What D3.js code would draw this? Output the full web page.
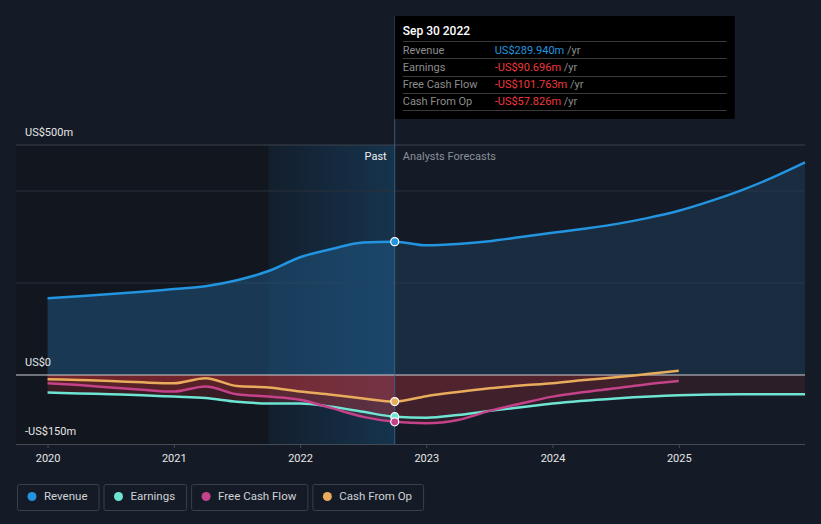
<!DOCTYPE html>
<html><head><meta charset="utf-8">
<script src="https://cdn.jsdelivr.net/npm/d3@7/dist/d3.min.js"></script>
<style>html,body{margin:0;padding:0;background:#151b26;}svg{display:block;font-family:Roboto,"Open Sans",sans-serif;}</style>
</head><body><svg id="c" width="821" height="524"></svg>
<script>
// ---- data ----
const pastT = [2020, 2020.25, 2020.5, 2020.75, 2021, 2021.25, 2021.5, 2021.75, 2022, 2022.25, 2022.5, 2022.75];
const revenuePast  = [167, 171, 176, 181, 187, 193, 206, 226, 256, 274, 288, 289.94];
const earningsPast = [-38, -40, -42, -44, -47, -50, -58, -62, -62, -69, -80, -90.696];
const fcfPast      = [-18, -22, -27, -32, -36, -25, -42, -47, -54, -72, -91, -101.763];
const cfoPast      = [-9, -11, -13, -16, -18, -7, -24, -27, -36, -43, -51, -57.826];

const revenueFT = [2022.75, 2023, 2023.25, 2023.5, 2023.75, 2024, 2024.25, 2024.5, 2024.75, 2025, 2025.25, 2025.5, 2025.75, 2026];
const revenueF  = [289.94, 282, 285, 291, 300, 309, 318, 328, 341, 357, 378, 402, 430, 462];
const earningsFT = [2022.75, 2023, 2023.25, 2023.5, 2023.75, 2024, 2024.5, 2025, 2025.5, 2026];
const earningsF  = [-90.696, -93, -87, -78, -70, -62, -51, -44, -42, -42];
const cashFT = [2022.75, 2023, 2023.25, 2023.5, 2023.75, 2024, 2024.25, 2024.5, 2024.75, 2025];
const fcfF   = [-101.763, -105, -98, -78, -62, -47, -37, -29, -20, -13];
const cfoF   = [-57.826, -46, -37, -29, -23, -18, -11, -5, 2, 9];

const xTicks = [2020, 2021, 2022, 2023, 2024, 2025];
const yLabels = [{v:500, t:"US$500m"}, {v:0, t:"US$0"}, {v:-150, t:"-US$150m"}];
const gridVals = [400, 200];
const tipDate = "Sep 30 2022";
const tipRows = [
  {label:"Revenue", value:"US$289.940m", pos:true},
  {label:"Earnings", value:"-US$90.696m", pos:false},
  {label:"Free Cash Flow", value:"-US$101.763m", pos:false},
  {label:"Cash From Op", value:"-US$57.826m", pos:false}
];
const seriesNames = ["Revenue", "Earnings", "Free Cash Flow", "Cash From Op"];
const colors = {"Revenue":"#2394df", "Earnings":"#6ee4d3", "Free Cash Flow":"#c4428a", "Cash From Op":"#e8ac5c"};
const nowT = 2022.75, hiStart = 2021.75;

// ---- scales ----
const svg = d3.select("#c");
const L = 16, R = 805, T = 145, B = 444;
const x = d3.scaleLinear().domain([2019.75, 2026]).range([L, R]);
const y = d3.scaleLinear().domain([-150, 500]).range([B, T]);
const zip = (ts, vs) => ts.map((t,i)=>[t, vs[i]]);
const curve = d3.curveMonotoneX;

const defs = svg.append("defs");
const hg = defs.append("linearGradient").attr("id","hi").attr("x1",0).attr("x2",1).attr("y1",0).attr("y2",0);
hg.append("stop").attr("offset","0%").attr("stop-color","#1d5c8c").attr("stop-opacity",0.12);
hg.append("stop").attr("offset","100%").attr("stop-color","#1d5c8c").attr("stop-opacity",0.42);

// backgrounds
svg.append("rect").attr("x",L).attr("y",T).attr("width",x(nowT)-L).attr("height",B-T).attr("fill","#11161f");
svg.append("rect").attr("x",x(hiStart)).attr("y",T).attr("width",x(nowT)-x(hiStart)).attr("height",B-T).attr("fill","url(#hi)");

// grid
svg.append("line").attr("x1",L).attr("x2",R).attr("y1",y(500)).attr("y2",y(500)).attr("stroke","#3c424d").attr("stroke-width",1);
gridVals.forEach(v=>svg.append("line").attr("x1",L).attr("x2",R).attr("y1",y(v)).attr("y2",y(v)).attr("stroke","#2a303a").attr("stroke-width",1));

// revenue areas
const area = d3.area().x(d=>x(d[0])).y0(y(0)).y1(d=>y(d[1])).curve(curve);
svg.append("path").attr("d",area(zip(pastT,revenuePast))).attr("fill","#1f5a88").attr("opacity",0.5);
svg.append("path").attr("d",area(zip(revenueFT,revenueF))).attr("fill","#1f4464").attr("opacity",0.42);

// negative areas
[[pastT,earningsPast],[pastT,fcfPast],[pastT,cfoPast]].forEach(([t,v])=>
  svg.append("path").attr("d",area(zip(t,v))).attr("fill","#d8373a").attr("opacity",0.2));
[[earningsFT,earningsF],[cashFT,fcfF],[cashFT,cfoF.map(v=>Math.min(v,0))]].forEach(([t,v])=>
  svg.append("path").attr("d",area(zip(t,v))).attr("fill","#c8343a").attr("opacity",0.13));

// zero line & axis
svg.append("line").attr("x1",L).attr("x2",R).attr("y1",y(0)).attr("y2",y(0)).attr("stroke","#d0d0d4").attr("stroke-width",1);
const xAxis = svg.append("g").attr("transform",`translate(0,${B})`)
  .call(d3.axisBottom(x).tickValues(xTicks).tickFormat(d3.format("d")).tickSize(4).tickPadding(6));
xAxis.select(".domain").attr("stroke","#454b56").attr("d",`M${L},0.5H${R}`);
xAxis.selectAll(".tick line").attr("stroke","#454b56");
xAxis.selectAll("text").attr("fill","#e6e6e6").attr("font-size",11).attr("font-family","Roboto");

// lines
const line = d3.line().x(d=>x(d[0])).y(d=>y(d[1])).curve(curve);
const drawLine = (data,c)=>svg.append("path").attr("d",line(data)).attr("fill","none").attr("stroke",c).attr("stroke-width",2.5);
drawLine(zip(pastT,earningsPast).concat(zip(earningsFT,earningsF).slice(1)), colors["Earnings"]);
drawLine(zip(pastT,cfoPast).concat(zip(cashFT,cfoF).slice(1)), colors["Cash From Op"]);
drawLine(zip(pastT,fcfPast).concat(zip(cashFT,fcfF).slice(1)), colors["Free Cash Flow"]);
drawLine(zip(pastT,revenuePast).concat(zip(revenueFT,revenueF).slice(1)), colors["Revenue"]);

// y labels
yLabels.forEach(d=>svg.append("text").attr("x",25).attr("y",y(d.v)-9).attr("fill","#e6e6e6").attr("font-size",11).text(d.t));

// past / forecast labels
svg.append("text").attr("x",x(nowT)-8).attr("y",160).attr("text-anchor","end").attr("fill","#f0f0f0").attr("font-size",11).text("Past");
svg.append("text").attr("x",x(nowT)+8).attr("y",160).attr("fill","#8a8f98").attr("font-size",11).text("Analysts Forecasts");

// vertical now line
svg.append("line").attr("x1",x(nowT)).attr("x2",x(nowT)).attr("y1",16).attr("y2",B).attr("stroke","#3e6a8e").attr("stroke-width",1).attr("opacity",0.8);

// markers
[["Revenue",revenuePast],["Earnings",earningsPast],["Free Cash Flow",fcfPast],["Cash From Op",cfoPast]].forEach(([n,v])=>
  svg.append("circle").attr("cx",x(nowT)).attr("cy",y(v[v.length-1])).attr("r",4).attr("fill",colors[n]).attr("stroke","#fff").attr("stroke-width",1.2));

// tooltip
const tx = x(nowT);
svg.append("rect").attr("x",tx).attr("y",16).attr("width",340).attr("height",103).attr("fill","#000");
svg.append("text").attr("x",tx+8).attr("y",35).attr("fill","#fff").attr("font-size",12).attr("font-weight",500).text(tipDate);
[41.5,58.5,76.5,93.5,110.5].forEach(yy=>svg.append("line").attr("x1",tx+8).attr("x2",tx+332).attr("y1",yy).attr("y2",yy).attr("stroke","#3a3a3a"));
tipRows.forEach((r,i)=>{
  const yy = 53.5 + i*17.3;
  svg.append("text").attr("x",tx+8).attr("y",yy).attr("fill","#8d8d8d").attr("font-size",11).text(r.label);
  const t = svg.append("text").attr("x",tx+100).attr("y",yy).attr("font-size",11);
  t.append("tspan").attr("fill", r.pos ? "#2394df" : "#f0383e").text(r.value);
  t.append("tspan").attr("fill","#8d8d8d").text(" /yr");
});

// legend
let lx = 17;
seriesNames.forEach(n=>{
  const g = svg.append("g");
  const txt = g.append("text").attr("x",lx+27).attr("y",500).attr("fill","#cfd2d6").attr("font-size",11.5).text(n);
  const w = txt.node().getComputedTextLength() + 38;
  g.insert("rect","text").attr("x",lx+0.5).attr("y",484.5).attr("width",w).attr("height",26).attr("rx",2).attr("fill","none").attr("stroke","#3a404b");
  g.append("circle").attr("cx",lx+15).attr("cy",496.5).attr("r",4.5).attr("fill",colors[n]);
  lx += w + 5;
});
</script></body></html>
